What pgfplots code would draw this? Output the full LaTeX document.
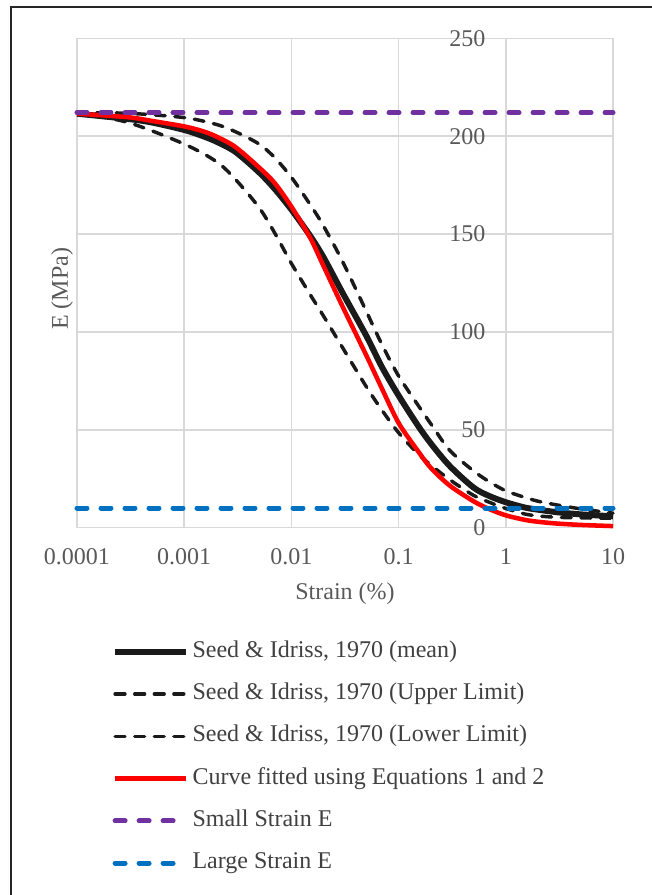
\documentclass[border=0pt]{standalone}
\usepackage{fontspec}
\setmainfont{Liberation Serif}
\usepackage{pgfplots}
\pgfplotsset{compat=1.18}

\definecolor{txtgray}{HTML}{595959}
\definecolor{legtxt}{HTML}{404040}
\definecolor{gridgray}{HTML}{D9D9D9}
\definecolor{curveblack}{HTML}{1A1A1A}
\definecolor{fitred}{HTML}{FF0000}
\definecolor{smallpurple}{HTML}{7030A0}
\definecolor{largeblue}{HTML}{0070C0}

\newcommand{\chartfont}{\fontsize{18}{21.6}\selectfont}

\begin{document}
\begin{tikzpicture}
\useasboundingbox (0,0) rectangle (488.25pt,671.25pt);
% outer chart frame (right and bottom edges are off the page)
\draw[line width=1.1pt, color=black!85] (8.25pt,-20pt) -- (8.25pt,666pt) -- (520pt,666pt);

\begin{axis}[
  at={(57.75pt,275.5pt)}, anchor=south west,
  scale only axis, width=402pt, height=367pt,
  xmode=log, xmin=0.0001, xmax=10,
  ymin=0, ymax=250,
  xtick={0.0001,0.001,0.01,0.1,1,10},
  xticklabels={0.0001,0.001,0.01,0.1,1,10},
  ytick={0,50,...,250},
  xminorticks=false,
  grid=major,
  major grid style={color=gridgray, line width=1.1pt},
  axis line style={draw=none},
  major tick length=0pt,
  clip=false,
  /pgf/number format/assume math mode=true,
  tick label style={font=\chartfont, text=txtgray},
  xticklabel style={inner sep=0pt, anchor=north, yshift=-15.5pt},
  yticklabel style={inner sep=0pt, anchor=east, xshift=306.5pt},
  xlabel={Strain (\%)}, ylabel={E (MPa)},
  label style={font=\chartfont, text=txtgray},
  xlabel style={at={(axis description cs:0.5,-0.135)}, anchor=center},
  ylabel style={at={(axis description cs:-0.028,0.488)}, anchor=center},
  legend style={at={(0.0655,-0.2311)}, anchor=north west,
                draw=none, fill=none, inner sep=0pt, outer sep=0pt,
                row sep=15.2pt, column sep=2.5pt,
                font=\chartfont, text=legtxt,
                nodes={inner sep=0pt, text height=12.5pt, text depth=4pt}},
  legend cell align=left,
  legend image code/.code={\draw[#1] (0pt,0pt) -- (53.3pt,0pt);},
]

% Seed & Idriss mean
\addplot[color=curveblack, line width=4.5pt, smooth] coordinates {
  (0.0001,211.5)(0.0003,208.8)(0.0005,207)(0.001,203.2)(0.0015,200)
  (0.002,197.2)(0.003,192)(0.005,181.5)(0.007,173)(0.01,162.5)
  (0.015,149)(0.02,138)(0.03,120)(0.05,98)(0.07,82)(0.1,67.5)
  (0.15,52.5)(0.2,43)(0.3,31.5)(0.5,20.5)(0.7,16.2)(1,13)(1.5,10.3)
  (2,9.2)(3,7.9)(5,6.8)(10,5.8)};
% upper limit
\addplot[color=curveblack, line width=2.6pt, smooth, line cap=round,
         dash pattern=on 7.4pt off 7.3pt] coordinates {
  (0.0001,212)(0.0003,211.7)(0.001,209.5)(0.002,206)(0.003,202.3)
  (0.005,196)(0.007,189)(0.01,179)(0.015,165)(0.02,154)(0.03,136)
  (0.05,110.5)(0.07,93.5)(0.1,77.5)(0.15,63)(0.2,53)(0.3,39.5)(0.5,29)
  (0.7,23.5)(1,18.8)(1.5,15.5)(2,13.5)(3,11.6)(5,9.6)(10,7.4)};
% lower limit
\addplot[color=curveblack, line width=2.6pt, smooth, line cap=round,
         dash pattern=on 7.4pt off 7.3pt] coordinates {
  (0.0001,212)(0.0003,207)(0.001,196)(0.002,187)(0.003,178)
  (0.005,163.5)(0.007,150.5)(0.01,135)(0.015,119)(0.02,108)(0.03,92)
  (0.05,72)(0.07,60)(0.1,48.5)(0.15,38)(0.2,32)(0.3,24.5)(0.5,16.5)
  (0.7,13)(1,9.8)(1.5,7)(2,6)(3,5.3)(5,5)(10,4.8)};
% fitted curve
\addplot[color=fitred, line width=3.4pt, smooth] coordinates {
  (0.0001,211.5)(0.0003,209.7)(0.0005,207.8)(0.001,205)(0.0015,202.5)
  (0.002,199.8)(0.003,194.5)(0.005,184)(0.007,176)(0.01,164)
  (0.015,148)(0.02,133.5)(0.03,113)(0.05,88)(0.07,71)(0.1,53.5)
  (0.15,39.5)(0.2,30.5)(0.3,21.5)(0.5,13.5)(0.7,9.5)(1,6.3)(1.5,4)
  (2,3)(3,2.1)(5,1.4)(10,0.8)};
% small strain E
\addplot[color=smallpurple, line width=3.75pt, line cap=round,
         dash pattern=on 7.5pt off 10.5pt] coordinates {(0.0001,212)(10,212)};
% large strain E
\addplot[color=largeblue, line width=3.75pt, line cap=round,
         dash pattern=on 7.5pt off 10.5pt] coordinates {(0.0001,10)(10,10)};

\legend{{Seed \& Idriss, 1970 (mean)},
        {Seed \& Idriss, 1970 (Upper Limit)},
        {Seed \& Idriss, 1970 (Lower Limit)},
        {Curve fitted using Equations 1 and 2},
        {Small Strain E},
        {Large Strain E}}
\end{axis}
\end{tikzpicture}
\end{document}
